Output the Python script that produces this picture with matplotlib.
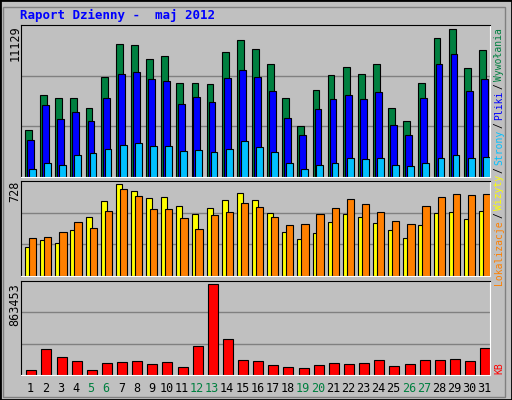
import matplotlib
matplotlib.use("Agg")
import matplotlib.pyplot as plt
from matplotlib.patches import Rectangle

days = list(range(1, 32))
weekend = [5, 6, 12, 13, 19, 20, 26, 27]
hits = [3496,6007,5786,5786,5121,7337,9774,9700,8666,8888,6894,6894,6820,9183,10070,9405,8297,5786,3791,6377,7485,8075,7558,8297,5121,4161,6894,10217,10882,8001,9331]
files = [2757,5343,4309,4826,4161,5786,7558,7706,7189,7041,5416,5860,5564,7263,7854,7337,6303,4382,3127,5047,5712,6007,5712,6229,3865,3127,5786,8297,9036,6303,7189]
pages = [616,1059,911,1650,1797,2093,2388,2536,2314,2314,1945,2019,1871,2093,2684,2240,1871,1059,616,911,1059,1428,1354,1428,911,837,1059,1428,1650,1428,1502]
visits = [230,285,261,364,467,594,728,673,617,625,554,491,538,601,657,601,499,348,293,340,427,491,467,419,364,301,404,499,506,451,514]
sites = [301,309,348,427,380,514,689,633,530,530,459,372,483,506,578,546,467,404,412,491,538,609,570,506,435,412,554,625,649,641,649]
kbytes = [47000,247000,171000,133000,47000,114000,123000,133000,104000,123000,76000,275000,863453,342000,142000,133000,95000,76000,66000,95000,114000,104000,114000,142000,85000,104000,142000,142000,152000,133000,256000]

W, H = 512, 400
fig = plt.figure(figsize=(W/100, H/100), dpi=100)
fig.patch.set_facecolor("#C0C0C0")
fig.add_artist(Rectangle((0, 0), 1, 1, transform=fig.transFigure, fill=False, ec="black", lw=2))
fig.add_artist(Rectangle((3/W, 3/H), 1-10/W, 1-10/H, transform=fig.transFigure, fill=False, ec="#808080", lw=1))
mono = "DejaVu Sans Mono"

def ax_px(x0, y0, x1, y1):
    a = fig.add_axes([x0/W, 1-y1/H, (x1-x0)/W, (y1-y0)/H])
    a.set_facecolor("#C0C0C0")
    a.set_xlim(0.5, 31.5)
    a.set_xticks([]); a.set_yticks([])
    for s in a.spines.values():
        s.set_color("black")
    a.spines["right"].set_color("white"); a.spines["bottom"].set_color("white")
    return a

def grid(a):
    for f in (1/3, 2/3):
        a.plot([0, 1], [f, f], transform=a.transAxes, color="#808080", lw=1, zorder=0)

kw = dict(align="edge", edgecolor="black", linewidth=0.8, zorder=2)
x = [d-0.5 for d in days]

a1 = ax_px(21, 25, 490, 177)
a1.set_ylim(0, 11129*152/151)
grid(a1)
a1.bar([v+0.27 for v in x], hits, 0.45, color="#008040", **kw)
a1.bar([v+0.40 for v in x], files, 0.45, color="#0000FF", **kw)
a1.bar([v+0.53 for v in x], pages, 0.45, color="#00C0FF", **kw)

a2 = ax_px(21, 181, 490, 276)
a2.set_ylim(0, 728*95/92)
grid(a2)
a2.bar([v+0.27 for v in x], visits, 0.4, color="#FFFF00", **kw)
a2.bar([v+0.53 for v in x], sites, 0.48, color="#FF8000", **kw)

a3 = ax_px(21, 281, 490, 375)
a3.set_ylim(0, 863453*94/91)
grid(a3)
a3.bar([v+0.35 for v in x], kbytes, 0.66, color="#FF0000", **kw)

def T(px, py, s, **k):
    fig.text(px/W, 1-py/H, s, family=mono, **k)

T(20, 15, "Raport Dzienny -  maj 2012", color="#0000FF", fontsize=9, fontweight="bold", va="center")
T(15, 25, "11129", rotation=90, fontsize=8.5, va="top", ha="center")
T(15, 181, "728", rotation=90, fontsize=8.5, va="top", ha="center")
T(15, 283, "863453", rotation=90, fontsize=8.5, va="top", ha="center")
for d in days:
    T(21 + (d-0.5)*469/31 + 2, 389, str(d), fontsize=8.5, ha="center", va="center",
      color="#008040" if d in weekend else "black")
right = [(28, "Wywołania", "#008040"), (83, "/", "black"), (91, "Pliki", "#0000FF"),
         (122, "/", "black"), (130, "Strony", "#00C0FF"), (167, "/", "black"),
         (175, "Wizyty", "#FFFF00"), (212, "/", "black"), (220, "Lokalizacje", "#FF8000"),
         (362, "KB", "#FF0000")]
for py, s, c in right:
    T(499, py, s, rotation=90, fontsize=7, va="top", ha="center", color=c)

fig.savefig("out.png", dpi=100, facecolor=fig.get_facecolor())
